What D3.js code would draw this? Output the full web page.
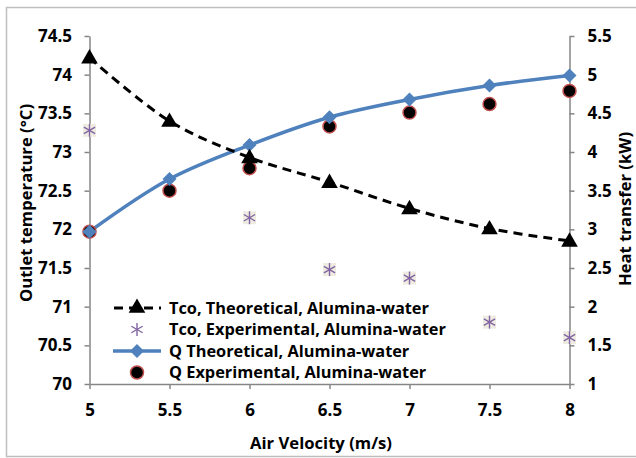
<!DOCTYPE html>
<html>
<head>
<meta charset="utf-8">
<script src="https://cdn.jsdelivr.net/npm/d3@7"></script>
<style>
  html, body { margin: 0; padding: 0; background: #fff; }
  svg { display: block; }
  text { font-family: "Open Sans", sans-serif; font-weight: 700; fill: #000; }
</style>
</head>
<body>
<svg id="chart" width="636" height="458"></svg>
<script>
// Air velocity (m/s)
const velocity = [5, 5.5, 6, 6.5, 7, 7.5, 8];
// Outlet temperature (°C)
const tcoTheoretical = [74.22, 73.40, 72.93, 72.61, 72.27, 72.01, 71.85];
const tcoExperimental = [73.28, 72.15, 71.48, 71.37, 70.80, 70.60];
const tcoExpVelocity = [5, 6, 6.5, 7, 7.5, 8];
// Heat transfer (kW)
const qTheoretical = [2.97, 3.65, 4.09, 4.45, 4.68, 4.86, 4.99];
const qExperimental = [2.97, 3.50, 3.79, 4.33, 4.51, 4.62, 4.79];

const xTicks = [5, 5.5, 6, 6.5, 7, 7.5, 8];
const leftTicks = [70, 70.5, 71, 71.5, 72, 72.5, 73, 73.5, 74, 74.5];
const rightTicks = [1, 1.5, 2, 2.5, 3, 3.5, 4, 4.5, 5, 5.5];

const legendLabels = [
  "Tco, Theoretical, Alumina-water",
  "Tco, Experimental, Alumina-water",
  "Q Theoretical, Alumina-water",
  "Q Experimental, Alumina-water"
];

const svg = d3.select("#chart");
const plot = { left: 89.5, right: 569.5, top: 36, bottom: 384 };
const axisColor = "#868686";
const blue = "#4F81BD";
const purple = "#8064A2";
const red = "#C0504D";
const font = "'Open Sans', sans-serif";

// pick a font size that makes a sample string span the wanted width
function fitSize(sample, width) {
  const t = svg.append("text").style("font-size", "20px").text(sample);
  const w = t.node().getComputedTextLength();
  t.remove();
  return 20 * width / w;
}
const tickSize = Math.min(17, fitSize("74.5", 35));
const titleSize = fitSize("Air Velocity (m/s)", 142);
const legendSize = fitSize(legendLabels[1], 277);

// outer chart frame
svg.append("rect")
  .attr("x", 6.5).attr("y", 7.5).attr("width", 640).attr("height", 449)
  .attr("fill", "none").attr("stroke", "#bfbfbf").attr("stroke-width", 1.5);

const x = d3.scaleLinear().domain([5, 8]).range([plot.left, plot.right]);
const yL = d3.scaleLinear().domain([70, 74.5]).range([plot.bottom, plot.top]);
const yR = d3.scaleLinear().domain([1, 5.5]).range([plot.bottom, plot.top]);

function styleAxis(g) {
  g.attr("font-family", null).attr("font-size", null);
  g.select(".domain").attr("stroke", axisColor).attr("stroke-width", 1.5);
  g.selectAll(".tick line").attr("stroke", axisColor).attr("stroke-width", 1.5);
  g.selectAll(".tick text").style("font-size", tickSize + "px")
    .style("font-family", font).style("font-weight", "700").attr("fill", "#000");
}

svg.append("g").attr("transform", `translate(0,${plot.bottom})`)
  .call(d3.axisBottom(x).tickValues(xTicks).tickFormat(d3.format("")).tickSizeInner(5).tickSizeOuter(0))
  .call(styleAxis)
  .call(g => g.selectAll(".tick text").attr("y", 32).attr("dy", null));

svg.append("g").attr("transform", `translate(${plot.left},0)`)
  .call(d3.axisLeft(yL).tickValues(leftTicks).tickFormat(d3.format("")).tickSizeInner(5).tickSizeOuter(0).tickPadding(12.5))
  .call(styleAxis);

svg.append("g").attr("transform", `translate(${plot.right},0)`)
  .call(d3.axisRight(yR).tickValues(rightTicks).tickFormat(d3.format("")).tickSizeInner(5).tickSizeOuter(0).tickPadding(13))
  .call(styleAxis);

// axis titles
svg.append("text").attr("x", 321).attr("y", 449)
  .attr("text-anchor", "middle").style("font-size", titleSize + "px").text("Air Velocity (m/s)");
svg.append("text").attr("transform", "translate(31.5,203) rotate(-90)")
  .attr("text-anchor", "middle").style("font-size", titleSize + "px").text("Outlet temperature (°C)");
svg.append("text").attr("transform", "translate(631,209) rotate(-90)")
  .attr("text-anchor", "middle").style("font-size", titleSize + "px").text("Heat transfer (kW)");

// marker painters
const triangle = d3.symbol().type(d3.symbolTriangle).size(120);
const diamondPath = "M0,-7L7,0L0,7L-7,0Z";

function drawTriangle(g, cx, cy) {
  g.append("path").attr("d", triangle).attr("transform", `translate(${cx},${cy + 1})`).attr("fill", "#000");
}
function drawStar(g, cx, cy, withBox) {
  if (withBox) {
    g.append("rect").attr("x", cx - 6.5).attr("y", cy - 6.5).attr("width", 13).attr("height", 13).attr("fill", "#eeece1");
  }
  const r = 6.5;
  [[0, -r, 0, r], [-r * 0.87, -r * 0.5, r * 0.87, r * 0.5], [-r * 0.87, r * 0.5, r * 0.87, -r * 0.5]].forEach(s => {
    g.append("line").attr("x1", cx + s[0]).attr("y1", cy + s[1]).attr("x2", cx + s[2]).attr("y2", cy + s[3])
      .attr("stroke", purple).attr("stroke-width", 1.4);
  });
}
function drawDiamond(g, cx, cy) {
  g.append("path").attr("d", diamondPath).attr("transform", `translate(${cx},${cy})`).attr("fill", blue);
}
function drawCircle(g, cx, cy) {
  g.append("circle").attr("cx", cx).attr("cy", cy).attr("r", 6.5).attr("fill", "#000")
    .attr("stroke", red).attr("stroke-width", 1.5);
}

const smooth = d3.curveCatmullRom.alpha(0.5);

// Q theoretical line
const qLine = d3.line().x((d, i) => x(velocity[i])).y(d => yR(d)).curve(smooth);
svg.append("path").datum(qTheoretical).attr("d", qLine)
  .attr("fill", "none").attr("stroke", blue).attr("stroke-width", 3.5);

// Tco experimental stars
const gStars = svg.append("g");
tcoExperimental.forEach((v, i) => drawStar(gStars, x(tcoExpVelocity[i]), yL(v), true));

// Q experimental circles
const gCirc = svg.append("g");
qExperimental.forEach((v, i) => drawCircle(gCirc, x(velocity[i]), yR(v)));

// Q theoretical diamonds
const gDia = svg.append("g");
qTheoretical.forEach((v, i) => drawDiamond(gDia, x(velocity[i]), yR(v)));

// Tco theoretical dashed line with triangles
const tLine = d3.line().x((d, i) => x(velocity[i])).y(d => yL(d)).curve(smooth);
svg.append("path").datum(tcoTheoretical).attr("d", tLine)
  .attr("fill", "none").attr("stroke", "#000").attr("stroke-width", 3)
  .attr("stroke-dasharray", "9,6");
const gTri = svg.append("g");
tcoTheoretical.forEach((v, i) => drawTriangle(gTri, x(velocity[i]), yL(v)));

// legend
const legend = svg.append("g");
const rowY = [308, 329.5, 351, 372.5];
const symX0 = 113, symX1 = 161, symCx = 137;
legendLabels.forEach((label, i) => {
  const cy = rowY[i];
  if (i === 0) {
    legend.append("line").attr("x1", symX0).attr("x2", symX1).attr("y1", cy).attr("y2", cy)
      .attr("stroke", "#000").attr("stroke-width", 3).attr("stroke-dasharray", "9,6").attr("stroke-dashoffset", -1);
    drawTriangle(legend, symCx, cy - 1);
  } else if (i === 1) {
    drawStar(legend, symCx, cy, false);
  } else if (i === 2) {
    legend.append("line").attr("x1", symX0).attr("x2", symX1).attr("y1", cy).attr("y2", cy)
      .attr("stroke", blue).attr("stroke-width", 3.5);
    drawDiamond(legend, symCx, cy);
  } else {
    drawCircle(legend, symCx, cy);
  }
  legend.append("text").attr("x", 169).attr("y", cy + legendSize * 0.36)
    .style("font-size", legendSize + "px").text(label);
});
</script>
</body>
</html>
